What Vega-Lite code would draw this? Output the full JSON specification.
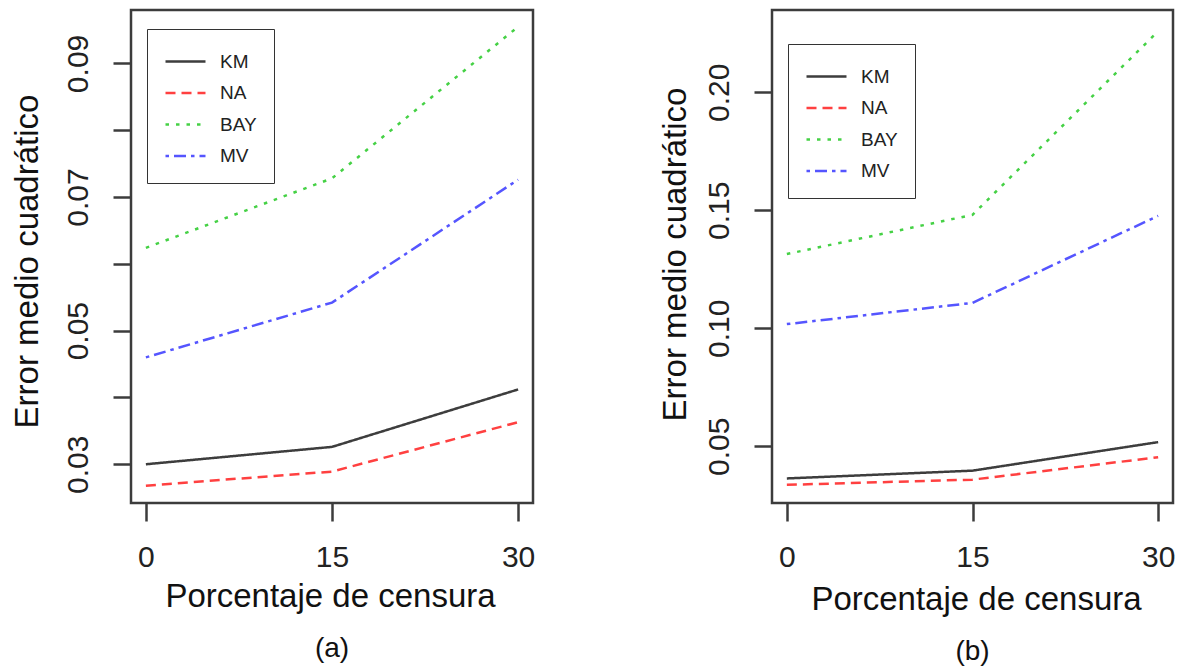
{
  "$schema": "https://vega.github.io/schema/vega-lite/v6.json",
  "background": "white",
  "padding": {"left": 9, "top": 8, "right": 0, "bottom": 0},
  "data": {"values": [
    {"panel": "a", "pct": 0, "method": "KM", "value": 0.0300},
    {"panel": "a", "pct": 15, "method": "KM", "value": 0.0326},
    {"panel": "a", "pct": 30, "method": "KM", "value": 0.0412},
    {"panel": "a", "pct": 0, "method": "NA", "value": 0.0268},
    {"panel": "a", "pct": 15, "method": "NA", "value": 0.0289},
    {"panel": "a", "pct": 30, "method": "NA", "value": 0.0363},
    {"panel": "a", "pct": 0, "method": "BAY", "value": 0.0624},
    {"panel": "a", "pct": 15, "method": "BAY", "value": 0.0728},
    {"panel": "a", "pct": 30, "method": "BAY", "value": 0.0955},
    {"panel": "a", "pct": 0, "method": "MV", "value": 0.0460},
    {"panel": "a", "pct": 15, "method": "MV", "value": 0.0542},
    {"panel": "a", "pct": 30, "method": "MV", "value": 0.0726},
    {"panel": "b", "pct": 0, "method": "KM", "value": 0.0364},
    {"panel": "b", "pct": 15, "method": "KM", "value": 0.0397},
    {"panel": "b", "pct": 30, "method": "KM", "value": 0.0518},
    {"panel": "b", "pct": 0, "method": "NA", "value": 0.0337},
    {"panel": "b", "pct": 15, "method": "NA", "value": 0.0359},
    {"panel": "b", "pct": 30, "method": "NA", "value": 0.0454},
    {"panel": "b", "pct": 0, "method": "BAY", "value": 0.1315},
    {"panel": "b", "pct": 15, "method": "BAY", "value": 0.1481},
    {"panel": "b", "pct": 30, "method": "BAY", "value": 0.2259},
    {"panel": "b", "pct": 0, "method": "MV", "value": 0.1018},
    {"panel": "b", "pct": 15, "method": "MV", "value": 0.1108},
    {"panel": "b", "pct": 30, "method": "MV", "value": 0.1477}
  ]},
  "config": {
    "font": "Liberation Sans",
    "view": {"stroke": "#3c3c3c", "strokeWidth": 2.5},
    "axis": {
      "grid": false, "domain": false,
      "tickSize": 18, "tickWidth": 2.5, "tickColor": "#3c3c3c",
      "labelFont": "Liberation Sans", "labelFontSize": 30, "labelColor": "#222222",
      "titleFont": "Liberation Sans", "titleFontSize": 33, "titleFontWeight": "normal", "titleColor": "#111111",
      "labelFlush": false, "labelOverlap": false, "labelBound": false
    },
    "legend": {
      "title": null, "orient": "none", "padding": 17,
      "strokeColor": "#333333", "fillColor": "white",
      "symbolType": "M-1,0L1.857,0", "symbolSize": 784, "symbolStrokeWidth": 2.5,
      "labelOffset": 25, "rowPadding": 5.5, "labelFontSize": 19, "labelColor": "#222222", "labelFont": "Liberation Sans"
    }
  },
  "resolve": {"scale": {"x": "independent", "y": "independent"}, "legend": {"color": "independent", "strokeDash": "independent"}},
  "spacing": 239,
  "bounds": "flush",
  "hconcat": [
    {
      "width": 402, "height": 493,
      "transform": [{"filter": "datum.panel == 'a'"}],
      "title": {"text": "(a)", "orient": "bottom", "fontSize": 28, "fontWeight": "normal", "font": "Liberation Sans", "color": "#111111", "offset": 22, "anchor": "middle"},
      "mark": {"type": "line", "strokeWidth": 2.5},
      "encoding": {
        "x": {"field": "pct", "type": "quantitative",
          "scale": {"domain": [-1.2, 31.2], "nice": false, "zero": false},
          "axis": {"values": [0, 15, 30], "format": "d", "title": "Porcentaje de censura",
            "labelPadding": 45, "labelBaseline": "alphabetic",
            "titleBaseline": "alphabetic", "titleX": 199, "titleY": 103}},
        "y": {"field": "value", "type": "quantitative",
          "scale": {"domain": [0.0242, 0.098], "nice": false, "zero": false},
          "axis": {"values": [0.03, 0.04, 0.05, 0.06, 0.07, 0.08, 0.09],
            "labelExpr": "indexof(['0.03','0.05','0.07','0.09'], format(datum.value, '.2f')) >= 0 ? format(datum.value, '.2f') : ''",
            "labelAngle": 270, "labelAlign": "center", "labelBaseline": "alphabetic", "labelPadding": 26,
            "title": "Error medio cuadrático", "titleAngle": 270, "titleAlign": "center", "titleBaseline": "alphabetic",
            "titleX": -94, "titleY": 251}},
        "color": {"field": "method", "type": "nominal",
          "scale": {"domain": ["KM", "NA", "BAY", "MV"], "range": ["#3d3d3d", "#ff4040", "#45d145", "#5555ff"]},
          "legend": {"legendX": 16, "legendY": 19}},
        "strokeDash": {"field": "method", "type": "nominal",
          "scale": {"domain": ["KM", "NA", "BAY", "MV"], "range": [[1, 0], [10, 6], [3.5, 7], [3.5, 5, 12, 5]]},
          "legend": {"legendX": 16, "legendY": 19}}
      }
    },
    {
      "width": 401, "height": 493,
      "transform": [{"filter": "datum.panel == 'b'"}],
      "title": {"text": "(b)", "orient": "bottom", "fontSize": 28, "fontWeight": "normal", "font": "Liberation Sans", "color": "#111111", "offset": 22, "anchor": "middle"},
      "mark": {"type": "line", "strokeWidth": 2.5},
      "encoding": {
        "x": {"field": "pct", "type": "quantitative",
          "scale": {"domain": [-1.2, 31.2], "nice": false, "zero": false},
          "axis": {"values": [0, 15, 30], "format": "d", "title": "Porcentaje de censura",
            "labelPadding": 45, "labelBaseline": "alphabetic",
            "titleBaseline": "alphabetic", "titleX": 204, "titleY": 106}},
        "y": {"field": "value", "type": "quantitative",
          "scale": {"domain": [0.026, 0.2349], "nice": false, "zero": false},
          "axis": {"values": [0.05, 0.10, 0.15, 0.20], "format": ".2f",
            "labelAngle": 270, "labelAlign": "center", "labelBaseline": "alphabetic", "labelPadding": 26,
            "title": "Error medio cuadrático", "titleAngle": 270, "titleAlign": "center", "titleBaseline": "alphabetic",
            "titleX": -87, "titleY": 244}},
        "color": {"field": "method", "type": "nominal",
          "scale": {"domain": ["KM", "NA", "BAY", "MV"], "range": ["#3d3d3d", "#ff4040", "#45d145", "#5555ff"]},
          "legend": {"legendX": 16, "legendY": 34}},
        "strokeDash": {"field": "method", "type": "nominal",
          "scale": {"domain": ["KM", "NA", "BAY", "MV"], "range": [[1, 0], [10, 6], [3.5, 7], [3.5, 5, 12, 5]]},
          "legend": {"legendX": 16, "legendY": 34}}
      }
    }
  ]
}
